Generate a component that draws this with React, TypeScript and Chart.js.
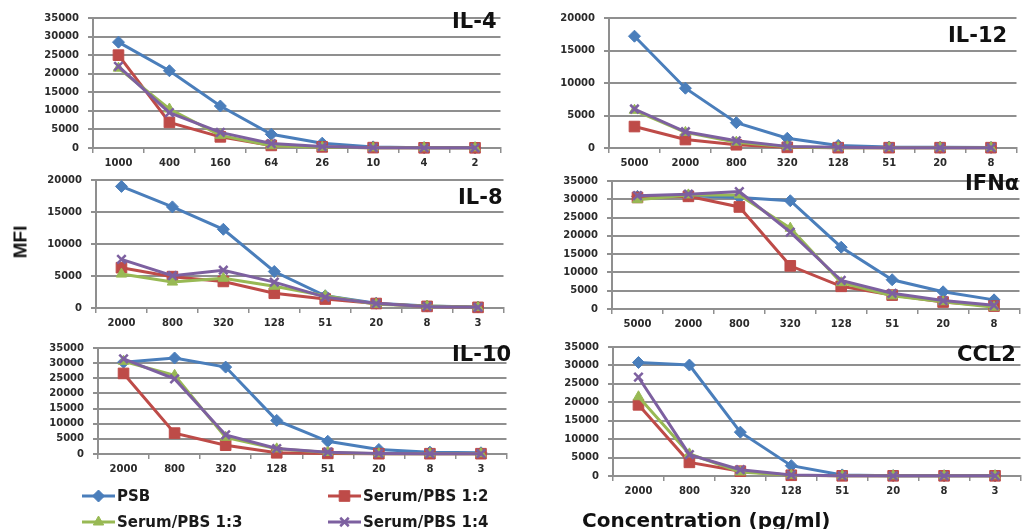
import React, { useEffect, useRef } from 'react';
import { Chart, registerables } from 'chart.js';

Chart.register(...registerables);

// ---------- categories (concentration, pg/ml) ----------
const il4Conc = ['1000', '400', '160', '64', '26', '10', '4', '2'];
const il12Conc = ['5000', '2000', '800', '320', '128', '51', '20', '8'];
const il8Conc = ['2000', '800', '320', '128', '51', '20', '8', '3'];
const ifnConc = ['5000', '2000', '800', '320', '128', '51', '20', '8'];
const il10Conc = ['2000', '800', '320', '128', '51', '20', '8', '3'];
const ccl2Conc = ['2000', '800', '320', '128', '51', '20', '8', '3'];

const seriesNames = ['PSB', 'Serum/PBS 1:2', 'Serum/PBS 1:3', 'Serum/PBS 1:4'];

// ---------- MFI values ----------
const il4PSB = [28500, 20800, 11300, 3700, 1300, 300, 100, 50];
const il4S12 = [25000, 6900, 3000, 700, 300, 100, 50, 50];
const il4S13 = [21500, 10500, 3400, 600, 200, 50, 50, 50];
const il4S14 = [22000, 9500, 4200, 1200, 400, 100, 50, 50];

const il12PSB = [17200, 9200, 3900, 1500, 400, 150, 100, 80];
const il12S12 = [3300, 1300, 500, 100, 50, 50, 50, 50];
const il12S13 = [5800, 2400, 900, 200, 50, 50, 50, 50];
const il12S14 = [6000, 2500, 1100, 250, 100, 50, 50, 50];

const il8PSB = [19000, 15800, 12300, 5700, 1900, 750, 300, 150];
const il8S12 = [6300, 4900, 4150, 2300, 1400, 700, 250, 100];
const il8S13 = [5300, 4050, 4650, 3400, 1900, 600, 300, 100];
const il8S14 = [7600, 5050, 5900, 4050, 1700, 700, 250, 100];

const ifnPSB = [30800, 31000, 30500, 29600, 16900, 8000, 4700, 2500];
const ifnS12 = [30500, 30800, 27900, 11800, 6200, 3800, 1900, 800];
const ifnS13 = [29900, 31200, 31200, 22100, 7200, 3600, 2000, 500];
const ifnS14 = [31000, 31400, 32100, 21000, 7800, 4300, 2300, 1000];

const il10PSB = [30300, 31700, 28700, 11100, 4200, 1500, 600, 400];
const il10S12 = [26600, 6900, 2900, 400, 200, 100, 100, 100];
const il10S13 = [30600, 26000, 5500, 1700, 500, 100, 100, 100];
const il10S14 = [31400, 24800, 6300, 1800, 600, 200, 100, 100];

const ccl2PSB = [30800, 30100, 11900, 2800, 300, 100, 50, 50];
const ccl2S12 = [19300, 3700, 1300, 200, 50, 50, 50, 50];
const ccl2S13 = [21500, 6000, 1100, 200, 50, 50, 50, 50];
const ccl2S14 = [26800, 5800, 1700, 300, 50, 50, 50, 50];

// ---------- styles ----------
const COLORS = ['#4A7EBB', '#BE4B48', '#98B954', '#7D60A0'];
const POINT_STYLES = ['rectRot', 'rect', 'triangle', 'crossRot'];
const POINT_RADII = [6, 7.5, 6, 6];
const POINT_BORDER = [1, 1, 1, 2.5];
const GRID = '#8f8f8f';
const TICK_COLOR = '#2a2a2a';
const TICK_FONT = { family: 'DejaVu Sans', weight: 'bold' as const, size: 10 };
const Y_W = 70;
const X_H = 26;
const PAD_TOP = 12;
const PAGE_H = 529;

type PanelCfg = {
  title: string;
  labels: string[];
  series: number[][];
  yMax: number;
  area: { left: number; top: number; right: number; bottom: number };
  titlePos: { x: number; cy: number };
};

const panels: PanelCfg[] = [
  { title: 'IL-4', labels: il4Conc, series: [il4PSB, il4S12, il4S13, il4S14], yMax: 35000,
    area: { left: 93, top: 15, right: 509, bottom: 148 }, titlePos: { x: 452, cy: 21 } },
  { title: 'IL-12', labels: il12Conc, series: [il12PSB, il12S12, il12S13, il12S14], yMax: 20000,
    area: { left: 609, top: 15, right: 1025, bottom: 148 }, titlePos: { x: 948, cy: 35 } },
  { title: 'IL-8', labels: il8Conc, series: [il8PSB, il8S12, il8S13, il8S14], yMax: 20000,
    area: { left: 96, top: 177, right: 512, bottom: 308 }, titlePos: { x: 458, cy: 197 } },
  { title: 'IFNα', labels: ifnConc, series: [ifnPSB, ifnS12, ifnS13, ifnS14], yMax: 35000,
    area: { left: 612, top: 178, right: 1028, bottom: 309 }, titlePos: { x: 965, cy: 183 } },
  { title: 'IL-10', labels: il10Conc, series: [il10PSB, il10S12, il10S13, il10S14], yMax: 35000,
    area: { left: 98, top: 345, right: 515, bottom: 454 }, titlePos: { x: 452, cy: 354 } },
  { title: 'CCL2', labels: ccl2Conc, series: [ccl2PSB, ccl2S12, ccl2S13, ccl2S14], yMax: 35000,
    area: { left: 613, top: 344, right: 1029, bottom: 476 }, titlePos: { x: 957, cy: 354 } },
];

const legendSlots = [
  { x: 82, y: 496 },
  { x: 328, y: 496 },
  { x: 82, y: 522 },
  { x: 328, y: 522 },
];

function drawMarker(ctx: CanvasRenderingContext2D, style: string, x: number, y: number, r: number, color: string) {
  ctx.save();
  ctx.fillStyle = color;
  ctx.strokeStyle = color;
  ctx.lineWidth = 1;
  ctx.beginPath();
  if (style === 'rectRot') {
    ctx.moveTo(x - r, y); ctx.lineTo(x, y - r); ctx.lineTo(x + r, y); ctx.lineTo(x, y + r); ctx.closePath();
    ctx.fill(); ctx.stroke();
  } else if (style === 'rect') {
    const s = r * Math.SQRT1_2;
    ctx.rect(x - s, y - s, 2 * s, 2 * s);
    ctx.fill(); ctx.stroke();
  } else if (style === 'triangle') {
    let a = 0;
    ctx.moveTo(x + Math.sin(a) * r, y - Math.cos(a) * r);
    a += (2 * Math.PI) / 3;
    ctx.lineTo(x + Math.sin(a) * r, y - Math.cos(a) * r);
    a += (2 * Math.PI) / 3;
    ctx.lineTo(x + Math.sin(a) * r, y - Math.cos(a) * r);
    ctx.closePath();
    ctx.fill(); ctx.stroke();
  } else {
    const d = r * Math.SQRT1_2;
    ctx.lineWidth = 2.5;
    ctx.moveTo(x - d, y - d); ctx.lineTo(x + d, y + d);
    ctx.moveTo(x - d, y + d); ctx.lineTo(x + d, y - d);
    ctx.stroke();
  }
  ctx.restore();
}

function Panel({ cfg, withLegend }: { cfg: PanelCfg; withLegend: boolean }) {
  const ref = useRef<HTMLCanvasElement>(null);
  const canvasLeft = cfg.area.left - Y_W;
  const canvasTop = cfg.area.top - PAD_TOP;
  const width = cfg.area.right - canvasLeft;
  const bottomSpace = withLegend ? PAGE_H - cfg.area.bottom : X_H;
  const height = cfg.area.bottom + bottomSpace - canvasTop;

  useEffect(() => {
    if (!ref.current) return;
    const legendPlugin = {
      id: 'manualLegend',
      afterDraw(chart: any) {
        const ctx: CanvasRenderingContext2D = chart.ctx;
        chart.data.datasets.forEach((ds: any, i: number) => {
          const slot = legendSlots[i];
          const x = slot.x - canvasLeft;
          const y = slot.y - canvasTop;
          ctx.save();
          ctx.strokeStyle = COLORS[i];
          ctx.lineWidth = 3;
          ctx.beginPath();
          ctx.moveTo(x, y);
          ctx.lineTo(x + 33, y);
          ctx.stroke();
          ctx.restore();
          drawMarker(ctx, POINT_STYLES[i], x + 16.5, y, POINT_RADII[i], COLORS[i]);
          ctx.save();
          ctx.fillStyle = '#1a1a1a';
          ctx.font = 'bold 15px "DejaVu Sans"';
          ctx.textBaseline = 'middle';
          ctx.textAlign = 'left';
          ctx.fillText(ds.label, x + 35, y + 1);
          ctx.restore();
        });
      },
    };

    const chart = new Chart(ref.current, {
      type: 'line',
      data: {
        labels: cfg.labels,
        datasets: cfg.series.map((d, i) => ({
          label: seriesNames[i],
          data: d,
          borderColor: COLORS[i],
          backgroundColor: COLORS[i],
          borderWidth: 3,
          pointStyle: POINT_STYLES[i] as any,
          pointRadius: POINT_RADII[i],
          pointBorderWidth: POINT_BORDER[i],
          pointBackgroundColor: COLORS[i],
          pointBorderColor: COLORS[i],
          tension: 0,
          clip: false as any,
          order: 4 - i,
        })),
      },
      options: {
        responsive: false,
        animation: false,
        events: [],
        layout: { padding: { top: PAD_TOP, left: 0, right: 0, bottom: withLegend ? bottomSpace - X_H : 0 } },
        plugins: { legend: { display: false }, tooltip: { enabled: false }, title: { display: false } },
        scales: {
          x: {
            offset: true,
            grid: { offset: true, drawOnChartArea: false, drawTicks: true, tickLength: 5, color: GRID, lineWidth: 1.5 },
            border: { display: true, color: GRID, width: 2 },
            ticks: { font: TICK_FONT, color: TICK_COLOR, padding: 4, maxRotation: 0, autoSkip: false },
            afterFit: (s: any) => { s.height = X_H; },
          },
          y: {
            min: 0,
            max: cfg.yMax,
            ticks: { stepSize: 5000, font: TICK_FONT, color: TICK_COLOR, padding: 9, callback: (v: any) => String(v) },
            grid: { color: GRID, lineWidth: 2, tickLength: 5 },
            border: { display: true, color: GRID, width: 2 },
            afterFit: (s: any) => { s.width = Y_W; },
          },
        },
      },
      plugins: withLegend ? [legendPlugin] : [],
    });
    return () => chart.destroy();
  }, []);

  return (
    <canvas
      ref={ref}
      width={width}
      height={height}
      style={{ position: 'absolute', left: canvasLeft, top: canvasTop, width, height }}
    />
  );
}

export default function App() {
  return (
    <div style={{ position: 'absolute', left: 0, top: 0, width: 1023, height: PAGE_H, overflow: 'hidden', background: '#fff' }}>
      {panels.map((p, i) => (
        <Panel key={p.title} cfg={p} withLegend={i === 4} />
      ))}
      {panels.map((p) => (
        <div
          key={'t' + p.title}
          style={{
            position: 'absolute', left: p.titlePos.x, top: p.titlePos.cy - 10,
            font: 'bold 21px "DejaVu Sans"', lineHeight: '1', color: '#111', whiteSpace: 'nowrap',
          }}
        >
          {p.title}
        </div>
      ))}
      <div
        style={{
          position: 'absolute', left: 20, top: 242, transform: 'translate(-50%, -50%) rotate(-90deg)',
          font: 'bold 19px "Liberation Sans"', lineHeight: '1', color: '#111', whiteSpace: 'nowrap',
        }}
      >
        MFI
      </div>
      <div
        style={{
          position: 'absolute', left: 582, top: 510,
          font: 'bold 20px "DejaVu Sans"', lineHeight: '1', color: '#111', whiteSpace: 'nowrap',
        }}
      >
        Concentration (pg/ml)
      </div>
    </div>
  );
}
